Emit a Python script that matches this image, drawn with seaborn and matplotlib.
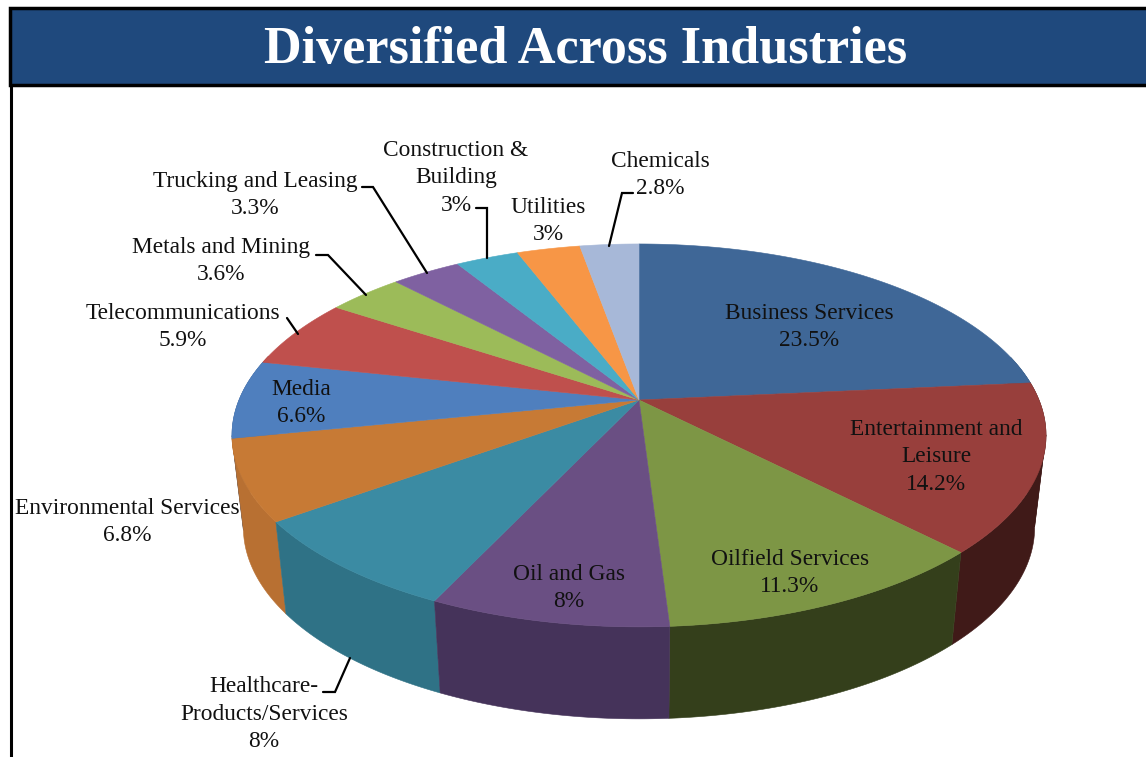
import numpy as np
import matplotlib
matplotlib.use("Agg")
import matplotlib.pyplot as plt
from matplotlib.patches import Rectangle
import seaborn as sns

# ---- data ----
TITLE = "Diversified Across Industries"
industries = ["Business Services", "Entertainment and\nLeisure", "Oilfield Services", "Oil and Gas",
              "Healthcare-\nProducts/Services", "Environmental Services", "Media", "Telecommunications",
              "Metals and Mining", "Trucking and Leasing", "Construction &\nBuilding", "Utilities", "Chemicals"]
shares = [23.5, 14.2, 11.3, 8, 8, 6.8, 6.6, 5.9, 3.6, 3.3, 3, 3, 2.8]
top_colors = ["#3f6797", "#983f3c", "#7d9645", "#6a4f83", "#3b8ba3", "#c77a35", "#4f7fbe",
              "#bf504d", "#9cbb59", "#7f61a1", "#4aacc6", "#f79646", "#a7b8d8"]
side_colors = ["#2c4a6e", "#401a18", "#343f1b", "#45335a", "#2f7286", "#b87032", "#3a5f8e",
               "#8e3a38", "#728a40", "#5d4776", "#367e91", "#b86e30", "#7a879f"]
label_pos = [(809, 327), (936, 457), (790, 573), (569, 588), (264, 714), (127, 522), (301, 403),
             (183, 327), (221, 261), (255, 195), (456, 178), (548, 221), (660, 175)]
leaders = [[(362, 187), (373, 187), (427, 273)],
           [(316, 255), (328, 255), (366, 295)],
           [(287, 318), (298, 334)],
           [(476, 208), (487, 208), (487, 258)],
           [(633, 193), (622, 193), (609, 246)],
           [(323, 692), (335, 692), (350, 658)]]

# ---- layout / projection ----
APEX = (639, 400)
KX, KY, PERSP = 400, 184.9, 0.185
DEPTH, BOTTOM_SX = 92, 0.972
SERIF = ["Liberation Serif", "DejaVu Serif"]

sns.set_theme(style="white")
plt.rcParams["font.family"] = SERIF
palette_top = sns.color_palette(top_colors)
palette_side = sns.color_palette(side_colors)

fig = plt.figure(figsize=(11.46, 7.57), dpi=100, facecolor="white")
ax = fig.add_axes([0, 0, 1, 1])

# the pie supplies the slice angles; they are then seen in perspective
wedges, _ = ax.pie(shares, startangle=90, counterclock=False, normalize=True)
for w in wedges:
    w.set_visible(False)
ax.set_aspect("auto")
ax.set_xlim(0, 1146)
ax.set_ylim(757, 0)
ax.axis("off")


def project(theta):
    t = np.radians(theta)
    u, v = np.cos(t), np.sin(t)
    d = 1 + PERSP * v
    return APEX[0] + KX * u / d, APEX[1] - KY * v / d


def lower(x, y):
    return APEX[0] + (x - APEX[0]) * BOTTOM_SX, y + DEPTH


# side wall, drawn from the back towards the front; each wall is cut where
# the rim turns back on itself so that its parts do not cancel when filled
walls = []
for w, col in zip(wedges, palette_side):
    th = np.linspace(w.theta1, w.theta2, 120)
    th = th[np.sin(np.radians(th)) < 0.25]
    if len(th) > 1:
        xs, _ys = project(th)
        flips = np.where(np.diff(np.sign(np.diff(xs))) != 0)[0] + 1
        parts = np.split(np.arange(len(th)), flips)
        for i, part in enumerate(parts):
            idx = np.r_[part, part[-1] + 1] if part[-1] + 1 < len(th) else part
            walls.append((np.sin(np.radians(th)).mean(), th[idx], col))
walls.sort(key=lambda s: -s[0])
for _, th, col in walls:
    xs, ys = project(th)
    xb, yb = lower(xs, ys)
    ax.fill(np.r_[xs, xb[::-1]], np.r_[ys, yb[::-1]], facecolor=col, edgecolor=col, linewidth=0.4, zorder=2)

# top faces
for w, col in zip(wedges, palette_top):
    th = np.linspace(w.theta1, w.theta2, 80)
    xs, ys = project(th)
    ax.fill(np.r_[APEX[0], xs], np.r_[APEX[1], ys], facecolor=col, edgecolor=col, linewidth=0.4, zorder=3)

# labels
for name, val, (x, y) in zip(industries, shares, label_pos):
    ax.text(x, y, f"{name}\n{val:g}%", ha="center", va="center", fontsize=16.8, color="#111111",
            linespacing=1.38, zorder=5)

# leader lines
for pts in leaders:
    ax.plot(*zip(*pts), color="black", lw=1.6, solid_joinstyle="miter", zorder=4)

# banner and frame
ax.add_patch(Rectangle((10, 8), 1140, 77, facecolor="#1f497d", edgecolor="black", linewidth=2.5, zorder=6))
ax.text(586, 63, TITLE, ha="center", va="baseline", color="white", fontsize=37.6, fontweight="bold", zorder=7)
ax.plot([11, 11], [85, 757], color="black", lw=2.2, zorder=6)

fig.savefig("out.png", dpi=100, facecolor="white")
